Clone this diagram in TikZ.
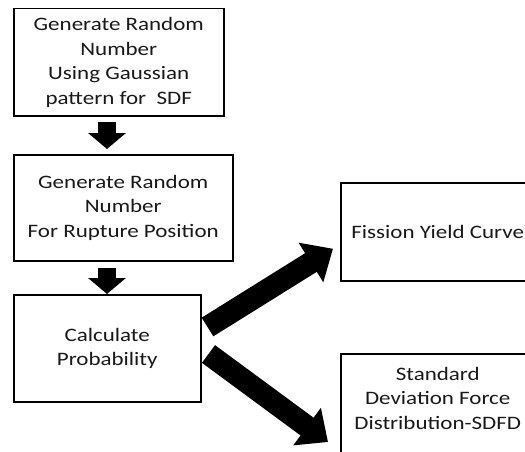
\documentclass[tikz,border=0pt]{standalone}
\usepackage{fontspec}
\setmainfont{Carlito}[FakeStretch=1.21]
\usetikzlibrary{arrows.meta}
\begin{document}
\begin{tikzpicture}[x=1pt,y=-1pt,
  box/.style={draw=black,line width=1.5pt,anchor=north west,inner sep=0pt,
    align=center,font=\fontsize{19pt}{24.5pt}\selectfont,text=black!90},
  boxtext/.style={inner sep=0pt,align=center,font=\fontsize{19pt}{24.5pt}\selectfont,text=black!90},
  downarr/.style={line width=18pt,-{Triangle[length=16pt,width=37pt]}},
  diagarr/.style={line width=22pt,-{Triangle[length=26pt,width=45pt]}}]
\useasboundingbox (0,0) rectangle (525,452);
\clip (0,0) rectangle (525,452);
\node[box,minimum width=210pt,minimum height=107pt] (box1) at (13,8)
  {Generate Random\\Number\\Using Gaussian\\pattern for\ \ SDF};
\node[box,minimum width=219pt,minimum height=106pt] (box2) at (13,154)
  {Generate Random\\Number\\For Rupture Position};
\node[box,minimum width=187pt,minimum height=107pt] (box3) at (13,294)
  {Calculate\\Probability};
\node[box,minimum width=194pt,minimum height=98pt] (box4) at (340,182)
  {Fission Yield Curve};
\node[box,minimum width=194pt,minimum height=115pt] (box5) at (340,353) {};
\node[boxtext] (box5text) at ([yshift=-45pt]box5.north)
  {Standard\\Deviation Force\\Distribution-SDFD};
\draw[downarr] ([xshift=94pt,yshift=-5pt]box1.south west) -- ([xshift=94pt,yshift=5pt]box2.north west);
\draw[downarr] ([xshift=94pt,yshift=-6pt]box2.south west) -- ([xshift=94pt]box3.north west);
\draw[diagarr] ([xshift=6pt,yshift=-33pt]box3.north east) -- ([xshift=-7pt,yshift=-17pt]box4.west);
\draw[diagarr] ([xshift=7pt,yshift=-60pt]box3.north east) -- ([xshift=-12pt,yshift=-89pt]box5.north west);
\end{tikzpicture}
\end{document}
